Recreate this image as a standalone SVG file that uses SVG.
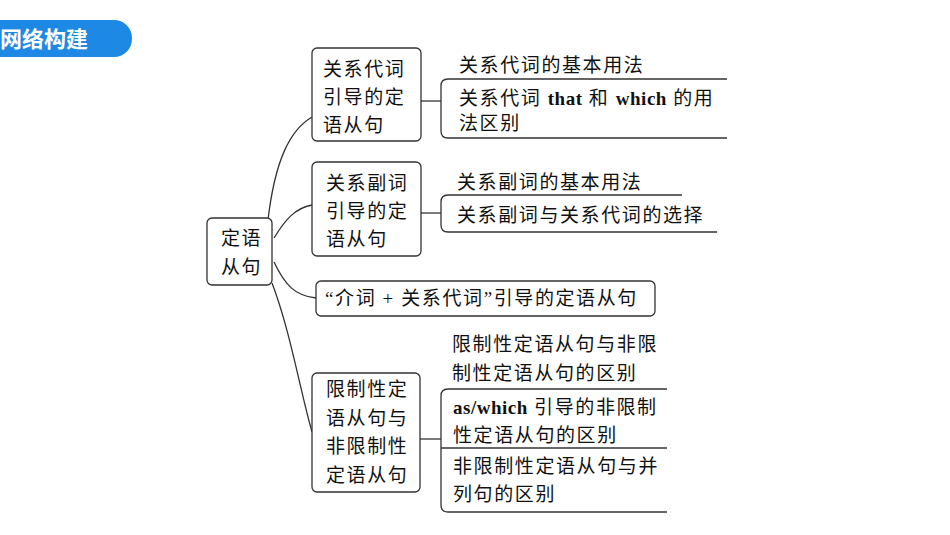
<svg xmlns="http://www.w3.org/2000/svg" width="950" height="535" viewBox="0 0 950 535">
<style>
.b{fill:#fff;stroke:#333;stroke-width:1.3}
.l{fill:none;stroke:#333;stroke-width:1.3}
text{font-family:"Liberation Serif","Noto Sans CJK SC",serif;font-size:19px;fill:#111;letter-spacing:1.6px}
.e{font-weight:bold;letter-spacing:0.5px}
</style>
<rect width="950" height="535" fill="#fff"/>
<g id="title"><rect x="-30" y="20" width="162" height="37" rx="18" fill="#1e88e5"/>
<text x="0" y="47" style="font-family:'Noto Sans CJK SC',sans-serif;font-weight:bold;font-size:22px;fill:#fff;letter-spacing:0">网络构建</text></g>
<g id="connectors" class="l">
<path d="M268,220 C275,160 290,130 312,117"/>
<path d="M274,238 C285,220 295,208 312,205"/>
<path d="M274,262 C285,285 295,296 316,298"/>
<path d="M272,283 C290,330 300,390 312,432"/>
<path d="M421,101 H441"/><path d="M421,213 H441"/><path d="M420,439 H441"/>
<path d="M727,79 H448 Q441,79 441,86 V131 Q441,138 448,138 H727"/>
<path d="M682,195 H448 Q441,195 441,202 V225 Q441,232 448,232 H717"/>
<path d="M667,389 H448 Q441,389 441,396 V505 Q441,512 448,512 H667"/>
<path d="M441,448 H667"/>
</g>
<g id="root"><rect class="b" x="207" y="218" width="65" height="67" rx="5"/>
<text x="221" y="245">定语</text><text x="221" y="274">从句</text></g>
<g id="n1"><rect class="b" x="312" y="48" width="109" height="93" rx="5"/>
<text x="323" y="76">关系代词</text><text x="323" y="104">引导的定</text><text x="323" y="132">语从句</text></g>
<g id="n1a"><text x="459" y="72">关系代词的基本用法</text></g>
<g id="n1b"><text x="459" y="105">关系代词 <tspan class="e">that</tspan> 和 <tspan class="e">which</tspan> 的用</text><text x="459" y="130">法区别</text></g>
<g id="n2"><rect class="b" x="312" y="162" width="109" height="94" rx="5"/>
<text x="326" y="190">关系副词</text><text x="326" y="218">引导的定</text><text x="326" y="246">语从句</text></g>
<g id="n2a"><text x="457" y="189">关系副词的基本用法</text></g>
<g id="n2b"><text x="457" y="222">关系副词与关系代词的选择</text></g>
<g id="n3"><rect class="b" x="316" y="281" width="339" height="35" rx="5"/>
<text x="325" y="305">“介词 + 关系代词”引导的定语从句</text></g>
<g id="n4"><rect class="b" x="312" y="373" width="108" height="119" rx="5"/>
<text x="326" y="396">限制性定</text><text x="326" y="425">语从句与</text><text x="326" y="453">非限制性</text><text x="326" y="482">定语从句</text></g>
<g id="n4a"><text x="452" y="351">限制性定语从句与非限</text><text x="452" y="380">制性定语从句的区别</text></g>
<g id="n4b"><text x="453" y="414"><tspan class="e">as/which</tspan> 引导的非限制</text><text x="453" y="442">性定语从句的区别</text></g>
<g id="n4c"><text x="453" y="473">非限制性定语从句与并</text><text x="453" y="501">列句的区别</text></g>
</svg>
